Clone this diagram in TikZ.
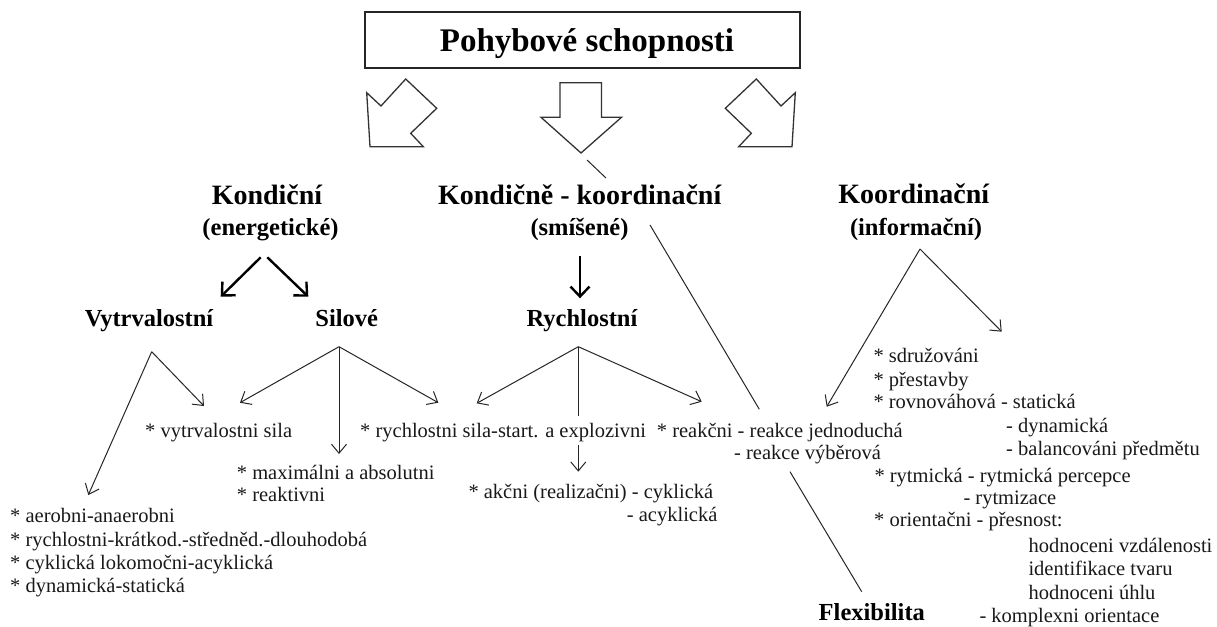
\documentclass[tikz,border=0pt]{standalone}
\usepackage{fontspec}
\setmainfont{Liberation Serif}
\usetikzlibrary{arrows.meta}
\begin{document}
\begin{tikzpicture}[x=1pt,y=-1pt,
  txt/.style={anchor=base west, inner sep=0pt, text=black!90, font=\fontsize{20.5}{23}\selectfont},
  ttl/.style={anchor=base, inner sep=0pt, font=\bfseries\fontsize{33}{36}\selectfont},
  hd/.style={anchor=base, inner sep=0pt, font=\bfseries\fontsize{28}{30}\selectfont},
  sub/.style={anchor=base, inner sep=0pt, font=\bfseries\fontsize{24.5}{28}\selectfont},
  thinline/.style={line width=1pt, draw=black!85},
  thinarr/.style={thinline, -{Straight Barb[length=9pt,width=15pt]}},
  thickarr/.style={line width=2.4pt, draw=black, -{Straight Barb[length=10pt,width=19pt]}},
  bigarrow/.style={draw=black!80, line width=1.3pt, line join=miter},
  box/.style={draw=black!85, line width=1.4pt, minimum width=435pt, minimum height=56pt, inner sep=0pt}
]
\useasboundingbox (0,0) rectangle (1217,626);
\fill[white] (0,0) rectangle (1217,626);

% title
\node[box] (titlebox) at (582.5,40) {};
\node[ttl] (title) at (587,52) {Pohybové schopnosti};

% big outline arrows
\draw[bigarrow] (370,146.7) -- (366.7,92.7) -- (381,106) -- (405.7,79) -- (436.7,108.3) -- (410.7,133.3) -- (423.3,146.7) -- cycle;
\draw[bigarrow] (560,82.7) -- (601.5,82.7) -- (601.5,117.3) -- (621.5,117.3) -- (581,153) -- (541,117.3) -- (560,117.3) -- cycle;
\draw[bigarrow] (792,146.7) -- (795.3,92.7) -- (781,106) -- (756.3,79) -- (725.3,108.3) -- (751.3,133.3) -- (738.7,146.7) -- cycle;

% headings
\node[hd] (kond) at (267,204) {Kondiční};
\node[sub] (energ) at (270.5,235) {(energetické)};
\node[hd] (kk) at (579.7,204) {Kondičně - koordinační};
\node[sub] (smis) at (579.5,235) {(smíšené)};
\node[hd] (koor) at (913.8,203.5) {Koordinační};
\node[sub] (inf) at (916,235) {(informační)};

\node[sub] (vytr) at (149,326.7) {Vytrvalostní};
\node[sub] (silo) at (346.7,326.7) {Silové};
\node[sub] (rych) at (582,326.7) {Rychlostní};
\node[sub] (flex) at (871.8,620) {Flexibilita};

% texts
\node[txt] (vsila) at (145,437.5) {* vytrvalostni sila};
\node[txt] (rsila) at (360,437.5) {* rychlostni sila-start. a explozivni};
\node[txt] (reak) at (656.7,437) {* reakčni - reakce jednoduchá};
\node[txt] (reak2) at (734,459) {- reakce výběrová};
\node[txt] (maxi) at (236.7,479.3) {* maximálni a absolutni};
\node[txt] (reakt) at (236.7,501) {* reaktivni};
\node[txt] (akc) at (468.3,498.7) {* akčni (realizačni) - cyklická};
\node[txt] (akc2) at (626.7,521) {- acyklická};

\node[txt] (l1) at (10,522.7) {* aerobni-anaerobni};
\node[txt] (l2) at (10,546) {* rychlostni-krátkod.-středněd.-dlouhodobá};
\node[txt] (l3) at (10,569.3) {* cyklická lokomočni-acyklická};
\node[txt] (l4) at (10,592.7) {* dynamická-statická};

\node[txt] (r1) at (873.3,362.7) {* sdružováni};
\node[txt] (r2) at (873.3,386) {* přestavby};
\node[txt] (r3) at (873.3,408.7) {* rovnováhová - statická};
\node[txt] (r4) at (1006,432.7) {- dynamická};
\node[txt] (r5) at (1006,455.3) {- balancováni předmětu};
\node[txt] (r6) at (874.3,482) {* rytmická - rytmická percepce};
\node[txt] (r7) at (963.3,504.3) {- rytmizace};
\node[txt] (r8) at (874,526.7) {* orientačni - přesnost:};
\node[txt] (r9) at (1028.3,552.7) {hodnoceni vzdálenosti};
\node[txt] (r10) at (1028.3,575.3) {identifikace tvaru};
\node[txt] (r11) at (1028.3,599.3) {hodnoceni úhlu};
\node[txt] (r12) at (979.3,622) {- komplexni orientace};

% connector points
\coordinate (enL) at (260.7,257.3);
\coordinate (enR) at (267.3,257.3);
\coordinate (vyT) at (220.7,296.7);
\coordinate (siT) at (308.3,296.7);
\coordinate (smA) at (580,256);
\coordinate (ryT) at (580,298.3);
\coordinate (vyA) at (151.7,351.7);
\coordinate (vsT1) at (204,406);
\coordinate (l1T) at (88.3,495);
\coordinate (siA) at (339,346.7);
\coordinate (vsT2) at (240,402.7);
\coordinate (maT) at (339,454);
\coordinate (rsT1) at (438.3,402.7);
\coordinate (ryA) at (578.3,346.7);
\coordinate (rsT2) at (476.7,403.3);
\coordinate (ryV1) at (578.3,416);
\coordinate (ryV2) at (578.3,445);
\coordinate (akT) at (578.3,471.7);
\coordinate (reT) at (701.7,401.7);
\coordinate (koA) at (920,249);
\coordinate (r1T) at (1001.7,331.7);
\coordinate (reT2) at (826.7,406.7);
\coordinate (tipA) at (587,160);
\coordinate (tipB) at (606,178);
\coordinate (smB) at (650,225);
\coordinate (fxM1) at (759.3,409.3);
\coordinate (fxM2) at (790,471.7);
\coordinate (fxT) at (861.7,591.7);

% thick arrows
\draw[thickarr] (enL) -- (vyT);
\draw[thickarr] (enR) -- (siT);
\draw[thickarr] (smA) -- (ryT);

% thin arrows
\draw[thinarr] (vyA) -- (vsT1);
\draw[thinarr] (vyA) -- (l1T);
\draw[thinarr] (siA) -- (vsT2);
\draw[thinarr] (siA) -- (maT);
\draw[thinarr] (siA) -- (rsT1);
\draw[thinarr] (ryA) -- (rsT2);
\draw[thinline] (ryA) -- (ryV1);
\draw[thinarr] (ryV2) -- (akT);
\draw[thinarr] (ryA) -- (reT);
\draw[thinarr] (koA) -- (r1T);
\draw[thinarr] (koA) -- (reT2);

% plain lines
\draw[thinline] (tipA) -- (tipB);
\draw[thinline] (smB) -- (fxM1);
\draw[thinline] (fxM2) -- (fxT);
\end{tikzpicture}
\end{document}
